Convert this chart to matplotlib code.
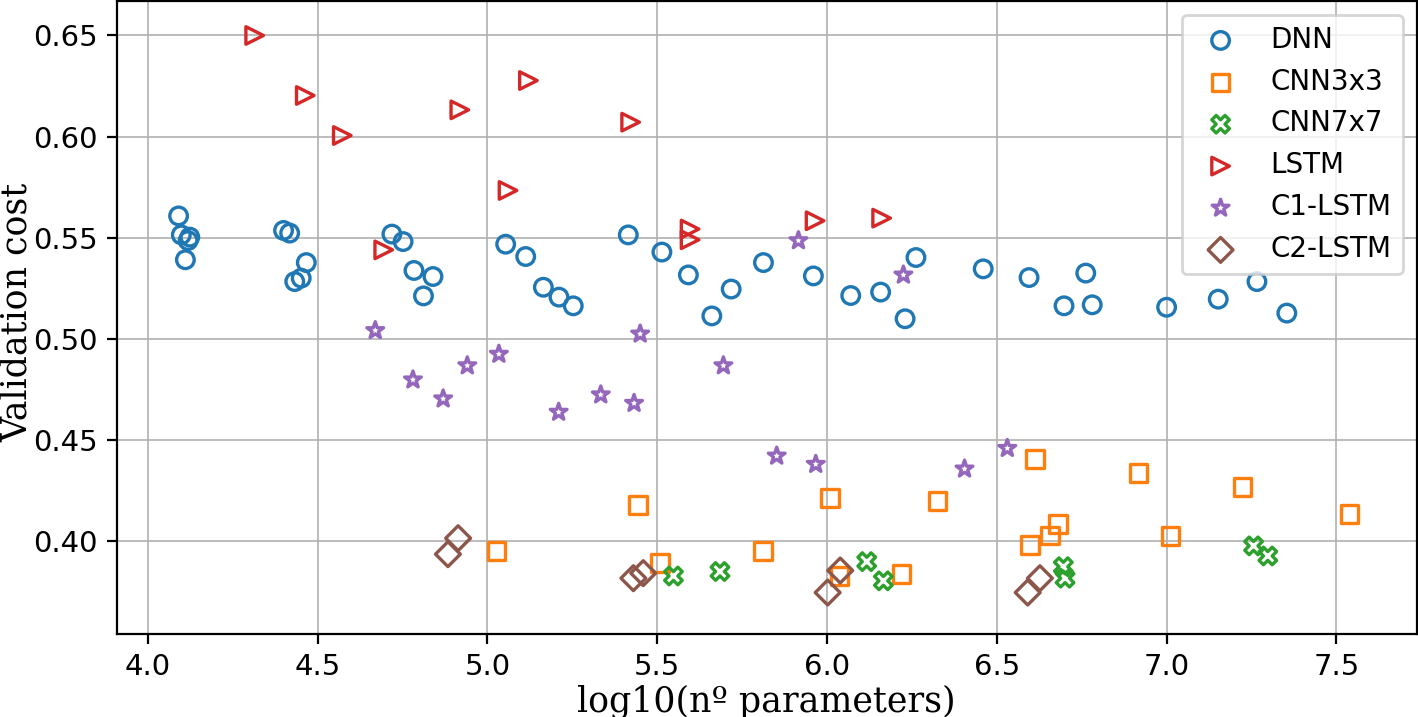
import numpy as np
import matplotlib
matplotlib.use("Agg")
import matplotlib.pyplot as plt

# log10(number of parameters) and validation cost
dnn_x = [4.091, 4.099, 4.124, 4.119, 4.111, 4.400, 4.418, 4.467, 4.433, 4.452,
         4.719, 4.752, 4.784, 4.840, 4.812, 5.054, 5.113, 5.165, 5.211, 5.253,
         5.415, 5.514, 5.592, 5.661, 5.718, 5.813, 5.960, 6.070, 6.158, 6.230,
         6.262, 6.460, 6.595, 6.762, 6.698, 6.781, 7.000, 7.152, 7.266, 7.354]
dnn_y = [0.5607, 0.5513, 0.5502, 0.5485, 0.5390, 0.5535, 0.5522, 0.5376, 0.5282, 0.5299,
         0.5517, 0.5480, 0.5337, 0.5307, 0.5211, 0.5467, 0.5406, 0.5254, 0.5205, 0.5162,
         0.5513, 0.5428, 0.5315, 0.5112, 0.5245, 0.5376, 0.5310, 0.5213, 0.5230, 0.5098,
         0.5401, 0.5345, 0.5302, 0.5324, 0.5162, 0.5167, 0.5155, 0.5195, 0.5282, 0.5126]

cnn3_x = [5.027, 5.443, 5.508, 5.811, 6.009, 6.037, 6.220, 6.326, 6.598, 6.613,
          6.657, 6.681, 6.917, 7.012, 7.224, 7.538]
cnn3_y = [0.3950, 0.4177, 0.3888, 0.3950, 0.4210, 0.3825, 0.3835, 0.4196, 0.3979, 0.4403,
          0.4025, 0.4081, 0.4334, 0.4023, 0.4264, 0.4131]

cnn7_x = [5.548, 5.685, 6.117, 6.166, 6.696, 6.701, 7.256, 7.298]
cnn7_y = [0.3825, 0.3847, 0.3896, 0.3801, 0.3871, 0.3814, 0.3974, 0.3924]

lstm_x = [4.315, 4.464, 4.573, 4.695, 4.919, 5.061, 5.121, 5.422, 5.597, 5.597, 5.965, 6.161]
lstm_y = [0.6500, 0.6203, 0.6005, 0.5439, 0.6132, 0.5733, 0.6277, 0.6071, 0.5542, 0.5489, 0.5583, 0.5596]

c1_x = [4.670, 4.781, 4.870, 4.941, 5.034, 5.210, 5.334, 5.432, 5.450, 5.695,
        5.852, 5.916, 5.967, 6.225, 6.405, 6.531]
c1_y = [0.5040, 0.4796, 0.4702, 0.4866, 0.4923, 0.4636, 0.4722, 0.4680, 0.5023, 0.4866,
        0.4419, 0.5485, 0.4378, 0.5315, 0.4355, 0.4457]

c2_x = [4.884, 4.914, 5.430, 5.459, 6.002, 6.039, 6.591, 6.627]
c2_y = [0.3933, 0.4012, 0.3814, 0.3839, 0.3743, 0.3852, 0.3743, 0.3814]

series = [
    ("DNN", dnn_x, dnn_y, "o", "tab:blue"),
    ("CNN3x3", cnn3_x, cnn3_y, "s", "tab:orange"),
    ("CNN7x7", cnn7_x, cnn7_y, "X", "tab:green"),
    ("LSTM", lstm_x, lstm_y, ">", "tab:red"),
    ("C1-LSTM", c1_x, c1_y, "*", "tab:purple"),
    ("C2-LSTM", c2_x, c2_y, "D", "tab:brown"),
]

fig = plt.figure(figsize=(7.09, 3.585), dpi=200)
ax = fig.add_axes([0.0825, 0.1158, 0.9165, 0.8832])

for name, xs, ys, mk, col in series:
    ax.scatter(xs, ys, s=40, marker=mk, facecolors="none", edgecolors=col,
               linewidths=1.2, label=name, zorder=3)

ax.set_xlim(3.9096, 7.736)
ax.set_ylim(0.3538, 0.6672)
ax.set_xticks(np.arange(4.0, 7.51, 0.5))
ax.set_yticks(np.arange(0.40, 0.651, 0.05))
ax.tick_params(labelsize=10.5)
ax.grid(True, linewidth=0.6)
ax.set_axisbelow(True)

ax.set_xlabel("log10(nº parameters)", family="DejaVu Serif", fontsize=12.5, labelpad=1)
# y label placed at the left edge of the figure
fig.text(0.0, 0.565, "Validation cost", family="DejaVu Serif", fontsize=12.5,
         rotation=90, ha="left", va="center")
ax.legend(loc="upper right")

fig.savefig("out.png", dpi=200)
